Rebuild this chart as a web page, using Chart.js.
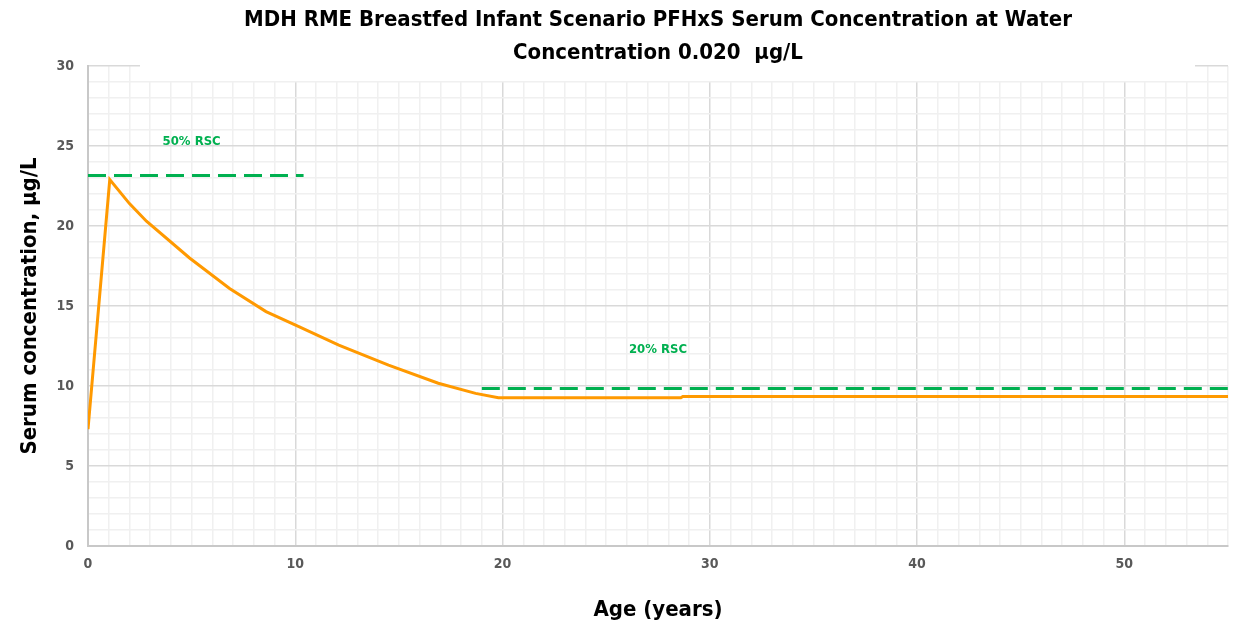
<!DOCTYPE html>
<html lang="en">
<head>
  <meta charset="UTF-8" />
  <title>PFHxS Serum Concentration</title>
  <style>
    body { margin: 0; background: #ffffff; }
    #wrap { width: 1238px; height: 629px; }
  </style>
</head>
<body>
  <div id="wrap"><canvas id="chart" width="1238" height="629"></canvas></div>

  <script src="https://cdn.jsdelivr.net/npm/chart.js"></script>
  <script>
    // values
    const ageYears = [0, 1.05, 2.0, 2.82, 4.9, 6.83, 8.59, 10.2, 12.1, 14.5, 16.9, 18.7, 19.8, 28.6, 28.7, 55];
    const serum    = [7.3, 22.9, 21.4, 20.3, 18.0, 16.1, 14.65, 13.7, 12.56, 11.3, 10.17, 9.54, 9.27, 9.27, 9.35, 9.35];
    const rsc50Ages = [0, 10.4];
    const rsc50Val = 23.15;
    const rsc20Ages = [19, 55];
    const rsc20Val = 9.85;
    const xTicks = [0, 10, 20, 30, 40, 50];
    const yTicks = [0, 5, 10, 15, 20, 25, 30];
    const titleLines = ["MDH RME Breastfed Infant Scenario PFHxS Serum Concentration at Water", "Concentration 0.020  \u00b5g/L"];

    const FONT = "'Liberation Sans Narrow', 'DejaVu Sans Condensed', sans-serif";
    const GREEN = "#00b050";

    const toXY = (xs, ys) => xs.map((x, i) => ({ x: x, y: Array.isArray(ys) ? ys[i] : ys }));

    // title, axis titles and the RSC labels
    const textPlugin = {
      id: "texts",
      afterDraw(chart) {
        const ctx = chart.ctx;
        const a = chart.chartArea;
        const cx = (a.left + a.right) / 2;
        ctx.save();
        ctx.fillStyle = "#ffffff";
        ctx.fillRect(140, 0, 1055, 81);
        ctx.fillStyle = "#000000";
        ctx.textAlign = "center";
        ctx.textBaseline = "middle";
        ctx.font = "bold 22px " + FONT;
        ctx.fillText(titleLines[0], cx, 20);
        ctx.fillText(titleLines[1], cx, 53);
        ctx.fillText("Age (years)", cx, 610);
        ctx.translate(30, (a.top + a.bottom) / 2);
        ctx.rotate(-Math.PI / 2);
        ctx.fillText("Serum concentration, \u00b5g/L", 0, 0);
        ctx.restore();

        const xs = chart.scales.x, ys = chart.scales.y;
        ctx.save();
        ctx.fillStyle = GREEN;
        ctx.font = "bold 13px " + FONT;
        ctx.textAlign = "center";
        ctx.textBaseline = "middle";
        ctx.fillText("50% RSC", xs.getPixelForValue(5), ys.getPixelForValue(25.3));
        ctx.fillText("20% RSC", xs.getPixelForValue(27.5), ys.getPixelForValue(12.3));
        ctx.restore();
      }
    };

    const gridColor = (ctx, major) => (ctx.tick && ctx.tick.value % major === 0) ? "#d9d9d9" : "#f0f0f0";

    new Chart(document.getElementById("chart"), {
      type: "scatter",
      data: {
        datasets: [
          {
            label: "Serum",
            data: toXY(ageYears, serum),
            showLine: true,
            borderColor: "#ff9900",
            borderWidth: 3,
            pointRadius: 0,
            tension: 0,
            order: 2
          },
          {
            label: "50% RSC",
            data: toXY(rsc50Ages, rsc50Val),
            showLine: true,
            borderColor: GREEN,
            borderWidth: 3,
            borderDash: [18, 8],
            pointRadius: 0,
            order: 1
          },
          {
            label: "20% RSC",
            data: toXY(rsc20Ages, rsc20Val),
            showLine: true,
            borderColor: GREEN,
            borderWidth: 3,
            borderDash: [18, 8],
            pointRadius: 0,
            order: 1
          }
        ]
      },
      options: {
        responsive: false,
        animation: false,
        layout: { padding: { top: 66, left: 0, right: -3, bottom: 0 } },
        plugins: {
          legend: { display: false },
          tooltip: { enabled: false },
          title: { display: false }
        },
        scales: {
          x: {
            type: "linear",
            min: 0,
            max: 55,
            afterFit(scale) { scale.height = 83; },
            afterBuildTicks(scale) {
              const t = [];
              for (let v = 0; v <= 55; v++) t.push({ value: v });
              scale.ticks = t;
            },
            ticks: {
              autoSkip: false,
              maxRotation: 0,
              padding: 10,
              color: "#595959",
              font: { family: FONT, size: 14, weight: "bold" },
              callback: (v) => xTicks.includes(v) ? String(v) : ""
            },
            grid: {
              color: (c) => gridColor(c, 10),
              lineWidth: 1.5,
              drawTicks: false
            },
            border: { color: "#c8c8c8", width: 2 }
          },
          y: {
            min: 0,
            max: 30,
            afterFit(scale) { scale.width = 88; },
            afterBuildTicks(scale) {
              const t = [];
              for (let v = 0; v <= 30; v++) t.push({ value: v });
              scale.ticks = t;
            },
            ticks: {
              autoSkip: false,
              padding: 14,
              color: "#595959",
              font: { family: FONT, size: 14, weight: "bold" },
              callback: (v) => yTicks.includes(v) ? String(v) : ""
            },
            grid: {
              color: (c) => gridColor(c, 5),
              lineWidth: 1.5,
              drawTicks: false
            },
            border: { color: "#c8c8c8", width: 2 }
          }
        }
      },
      plugins: [textPlugin]
    });
  </script>
</body>
</html>
